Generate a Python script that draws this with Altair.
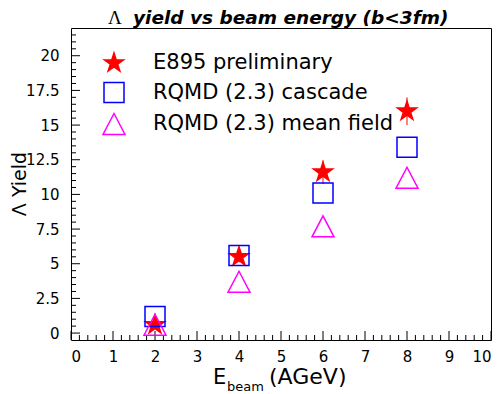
import altair as alt
import pandas as pd

# ---- data ----
energy = [2, 4, 6, 8]
e895_yield = [0.6, 5.5, 11.6, 16.0]
e895_err = [0.1, 0.4, 0.85, 1.0]
cascade_yield = [1.2, 5.6, 10.1, 13.4]
meanfield_yield = [0.6, 3.7, 7.7, 11.2]
series_names = ["E895 preliminary", "RQMD (2.3) cascade", "RQMD (2.3) mean field"]

# axis tick values
x_major = list(range(0, 11))
x_minor = [i / 5 for i in range(0, 51) if i % 5]
y_major = [0, 2.5, 5, 7.5, 10, 12.5, 15, 17.5, 20]
y_minor = [i / 2 for i in range(0, 44) if i % 5]

# text
title_symbol = "Λ"
title_rest = "yield vs beam energy (b<3fm)"
x_title_main = "E"
x_title_sub = "beam"
x_title_unit = "(AGeV)"
y_title = "Λ Yield"

# ---- styles ----
W, H = 420, 312
series_stroke = ["#ff0000", "#0000ff", "#ff00ff"]
series_fill = ["#ff0000", "transparent", "transparent"]
STAR = ("M0,-1.0L0.224,-0.309L0.951,-0.309L0.363,0.118L0.588,0.809L0,0.382"
        "L-0.588,0.809L-0.363,0.118L-0.951,-0.309L-0.224,-0.309Z")
SQUARE = "M-1,-1L1,-1L1,1L-1,1Z"
TRIANGLE = "M0,-1.05L-1.1,1.05L1.1,1.05Z"
FONT = "DejaVu Sans"

rows = []
for name, ys in zip(series_names, [e895_yield, cascade_yield, meanfield_yield]):
    for x, y in zip(energy, ys):
        rows.append({"energy": x, "yield": y, "series": name})
df = pd.DataFrame(rows)

df_err = pd.DataFrame({
    "energy": energy,
    "lo": [y - e for y, e in zip(e895_yield, e895_err)],
    "hi": [y + e for y, e in zip(e895_yield, e895_err)],
})

x_scale = alt.Scale(domain=[0, 10], nice=False, zero=False)
y_scale = alt.Scale(domain=[-0.5, 22], nice=False, zero=False)

x_axis = alt.Axis(
    values=x_major, title=None, grid=False, domain=False, ticks=False,
    labelFont=FONT, labelFontSize=15, labelColor="black", labelPadding=9,
    format="d",
)
y_axis = alt.Axis(
    values=y_major, title=None, grid=False, domain=False, ticks=False,
    labelFont=FONT, labelFontSize=15, labelColor="black", labelPadding=12,
    format=".1~f",
)

# inward tick marks
xt_major = alt.Chart(pd.DataFrame({"v": x_major})).mark_rule(color="black", strokeWidth=1).encode(
    x=alt.X("v:Q", scale=x_scale, axis=x_axis), y=alt.value(H), y2=alt.value(H - 9))
xt_minor = alt.Chart(pd.DataFrame({"v": x_minor})).mark_rule(color="black", strokeWidth=1).encode(
    x=alt.X("v:Q", scale=x_scale, axis=x_axis), y=alt.value(H), y2=alt.value(H - 5))
yt_major = alt.Chart(pd.DataFrame({"v": y_major})).mark_rule(color="black", strokeWidth=1).encode(
    y=alt.Y("v:Q", scale=y_scale, axis=y_axis), x=alt.value(0), x2=alt.value(9))
yt_minor = alt.Chart(pd.DataFrame({"v": y_minor})).mark_rule(color="black", strokeWidth=1).encode(
    y=alt.Y("v:Q", scale=y_scale, axis=y_axis), x=alt.value(0), x2=alt.value(5))

errbars = alt.Chart(df_err).mark_rule(color="#ff0000", strokeWidth=1).encode(
    x=alt.X("energy:Q", scale=x_scale, axis=x_axis),
    y=alt.Y("lo:Q", scale=y_scale, axis=y_axis),
    y2="hi:Q",
)

points = alt.Chart(df).mark_point(opacity=1, strokeWidth=1.5, size=400).encode(
    x=alt.X("energy:Q", scale=x_scale, axis=x_axis),
    y=alt.Y("yield:Q", scale=y_scale, axis=y_axis),
    shape=alt.Shape("series:N", title=None,
                    scale=alt.Scale(domain=series_names, range=[STAR, SQUARE, TRIANGLE])),
    fill=alt.Fill("series:N", title=None,
                  scale=alt.Scale(domain=series_names, range=series_fill)),
    stroke=alt.Stroke("series:N", title=None,
                      scale=alt.Scale(domain=series_names, range=series_stroke)),
)

txt = pd.DataFrame({"a": [0]})


def label(text, x, y, size, font=FONT, weight="normal", style="normal",
          align="left", baseline="alphabetic", angle=0):
    return alt.Chart(txt).mark_text(
        text=text, font=font, fontSize=size, fontWeight=weight, fontStyle=style,
        align=align, baseline=baseline, angle=angle, color="black",
    ).encode(x=alt.value(x), y=alt.value(y))


texts = [
    label(title_symbol, 37, -4, 19, font="Liberation Serif"),
    label(title_rest, 62, -4, 18.5, weight="bold", style="italic"),
    label(x_title_main, 142, 356, 21),
    label(x_title_sub, 156, 363, 13),
    label(x_title_unit, 198, 356, 22),
    label(y_title, -45, 156, 19, align="center", baseline="alphabetic", angle=270),
]

chart = alt.layer(xt_major, xt_minor, yt_major, yt_minor, errbars, points, *texts).properties(
    width=W, height=H,
    autosize=alt.AutoSizeParams(type="none"),
    padding={"left": 63, "top": 20, "right": 2, "bottom": 54},
).configure_view(
    stroke="black", strokeWidth=1,
).configure_legend(
    orient="none", legendX=32, legendY=24, padding=0,
    labelFont=FONT, labelFontSize=21, labelColor="black", labelLimit=400,
    symbolSize=400, symbolStrokeWidth=1.5, rowPadding=4.5, labelOffset=28,
    symbolOpacity=1,
)

chart.save("out.html", embed_options={"renderer": "svg", "actions": False})
